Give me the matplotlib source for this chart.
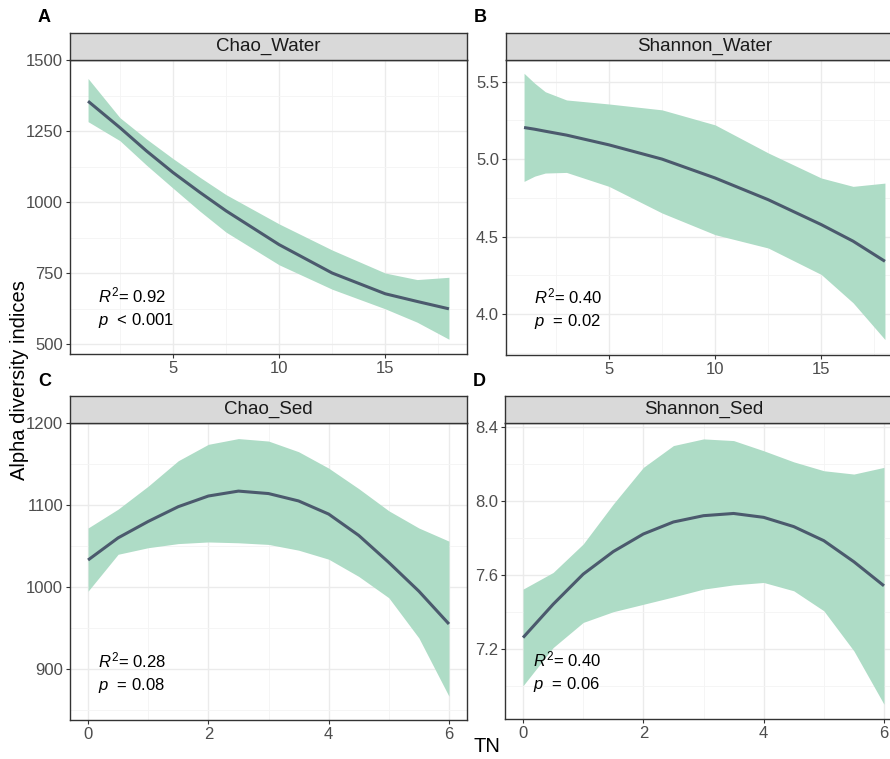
import numpy as np
import matplotlib.pyplot as plt

plt.rcParams['font.family'] = ['Liberation Sans', 'DejaVu Sans']
plt.rcParams['mathtext.fontset'] = 'custom'
plt.rcParams['mathtext.it'] = 'Liberation Sans:italic'
plt.rcParams['mathtext.rm'] = 'Liberation Sans'

# ---- data ----
# A: Chao_Water
x_a = [1, 2.5, 3.75, 5, 6.25, 7.5, 10, 12.5, 15, 16.5, 18]
fit_a = [1355, 1262, 1180, 1104, 1035, 969, 850, 750, 677, 650, 624]
hi_a = [1435, 1297, 1222, 1153, 1088, 1026, 923, 831, 750, 727, 735]
lo_a = [1283, 1216, 1130, 1049, 969, 894, 779, 693, 624, 577, 517]

# B: Shannon_Water
x_b = [1, 1.5, 2, 3, 5, 7.5, 10, 12.5, 15, 16.5, 18]
fit_b = [5.204, 5.193, 5.18, 5.155, 5.092, 5.0, 4.878, 4.738, 4.577, 4.47, 4.34]
hi_b = [5.554, 5.49, 5.435, 5.382, 5.356, 5.318, 5.221, 5.04, 4.878, 4.824, 4.845]
lo_b = [4.856, 4.89, 4.91, 4.914, 4.824, 4.652, 4.512, 4.426, 4.255, 4.072, 3.835]

# C: Chao_Sed
x_c = [0, 0.5, 1, 1.5, 2, 2.5, 3, 3.5, 4, 4.5, 5, 5.5, 6]
fit_c = [1033, 1060, 1080, 1098, 1111, 1117, 1114, 1105, 1089, 1063, 1030, 995, 955]
hi_c = [1072, 1095, 1123, 1154, 1174, 1181, 1178, 1165, 1145, 1120, 1093, 1072, 1056]
lo_c = [995, 1040, 1048, 1053, 1055, 1054, 1052, 1045, 1034, 1013, 987, 938, 867]

# D: Shannon_Sed
x_d = [0, 0.5, 1, 1.5, 2, 2.5, 3, 3.5, 4, 4.5, 5, 5.5, 6]
fit_d = [7.26, 7.44, 7.603, 7.725, 7.82, 7.885, 7.919, 7.931, 7.91, 7.86, 7.784, 7.67, 7.54]
hi_d = [7.522, 7.612, 7.766, 7.982, 8.18, 8.298, 8.334, 8.325, 8.27, 8.21, 8.162, 8.144, 8.18]
lo_d = [7.0, 7.206, 7.342, 7.40, 7.44, 7.48, 7.522, 7.545, 7.558, 7.513, 7.405, 7.188, 6.90]

titles = ["Chao_Water", "Shannon_Water", "Chao_Sed", "Shannon_Sed"]
letters = ["A", "B", "C", "D"]
stats = [("0.92", "< 0.001"), ("0.40", "= 0.02"), ("0.28", "= 0.08"), ("0.40", "= 0.06")]
yticks = [[500, 750, 1000, 1250, 1500], [4.0, 4.5, 5.0, 5.5],
          [900, 1000, 1100, 1200], [7.2, 7.6, 8.0, 8.4]]
ylims = [(465, 1500), (3.735, 5.64), (838, 1200), (6.82, 8.42)]
xticks = [[5, 10, 15], [5, 10, 15], [0, 2, 4, 6], [0, 2, 4, 6]]
xlims = [(0.15, 18.85), (0.15, 18.85), (-0.3, 6.3), (-0.3, 6.3)]

fill_col = "#AEDCC6"
line_col = "#4B5A6D"

W, H = 890, 759
fig = plt.figure(figsize=(W / 100, H / 100), dpi=100)

# panel boxes in pixels: left, top, right, bottom
boxes = [(70, 60, 467, 354), (506, 60, 903, 355),
         (70, 423, 467, 720), (505, 423, 902, 719)]
strip_h = 27

series = [(x_a, fit_a, lo_a, hi_a), (x_b, fit_b, lo_b, hi_b),
          (x_c, fit_c, lo_c, hi_c), (x_d, fit_d, lo_d, hi_d)]

for i, (l, t, r, b) in enumerate(boxes):
    ax = fig.add_axes([l / W, 1 - b / H, (r - l) / W, (b - t) / H])
    x, fit, lo, hi = series[i]
    ax.fill_between(x, lo, hi, color=fill_col, lw=0, zorder=2)
    ax.plot(x, fit, color=line_col, lw=2.2, zorder=3, solid_capstyle="butt",
            solid_joinstyle="round")

    ax.set_xticks(xticks[i])
    ax.set_yticks(yticks[i])
    # minor grid at midpoints
    xt = xticks[i]
    step = xt[1] - xt[0]
    ax.set_xticks(np.arange(xt[0] - step / 2, xt[-1] + step, step), minor=True)
    yt = yticks[i]
    ystep = yt[1] - yt[0]
    ax.set_yticks(np.arange(yt[0] - ystep / 2, yt[-1] + ystep, ystep), minor=True)
    ax.set_xlim(xlims[i])
    ax.set_ylim(ylims[i])
    ax.grid(which="major", color="#EBEBEB", lw=1.0, zorder=0)
    ax.grid(which="minor", color="#F4F4F4", lw=0.6, zorder=0)
    ax.tick_params(which="minor", length=0)
    ax.tick_params(which="major", length=3, width=0.8, color="#333333",
                   labelsize=12, labelcolor="#4D4D4D", pad=2)
    if i == 1 or i == 3:
        ax.set_yticklabels([f"{v:.1f}" for v in yt])
    for s in ax.spines.values():
        s.set_color("#333333")
        s.set_linewidth(1.0)
    ax.set_axisbelow(True)

    # annotation
    ax.text(0.07, 0.20, r"$R^2$= " + stats[i][0], transform=ax.transAxes,
            fontsize=12, va="center", ha="left")
    ax.text(0.07, 0.115, r"$p$  " + stats[i][1], transform=ax.transAxes,
            fontsize=12, va="center", ha="left")

    # strip
    sax = fig.add_axes([l / W, 1 - t / H, (r - l) / W, strip_h / H])
    sax.set_xticks([])
    sax.set_yticks([])
    sax.set_facecolor("#D9D9D9")
    for s in sax.spines.values():
        s.set_color("#333333")
        s.set_linewidth(1.0)
    sax.text(0.5, 0.5, titles[i], ha="center", va="center", fontsize=13.5,
             color="#1A1A1A")

    # panel letter
    fig.text((l - 32) / W, 1 - (t - 42) / H, letters[i], fontsize=13,
             fontweight="bold", ha="left", va="center")

fig.text(20 / W, 1 - 380 / H, "Alpha diversity indices", rotation=90,
         ha="center", va="center", fontsize=14.5)
fig.text(487 / W, 1 - 747 / H, "TN", ha="center", va="center", fontsize=14.5)

fig.savefig("out.png", dpi=100)
